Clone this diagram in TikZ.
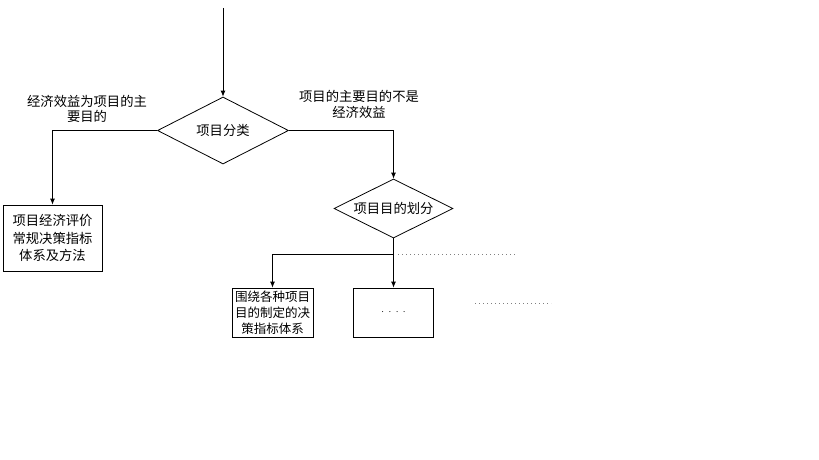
\documentclass[tikz,border=0pt]{standalone}
\usepackage{fontspec}
\setmainfont{Noto Sans CJK SC}
\usetikzlibrary{shapes.geometric,arrows.meta}
\begin{document}
\begin{tikzpicture}[x=1pt,y=-1pt,
  every node/.style={font=\fontsize{13.3}{17.5}\selectfont},
  dia/.style={draw,diamond,aspect=2,inner sep=0pt,line width=0.8pt},
  box/.style={draw,rectangle,inner sep=0pt,line width=0.8pt,align=center},
  lab/.style={align=center,inner sep=0pt,font=\fontsize{13.3}{15.5}\selectfont},
  arr/.style={line width=0.8pt,-{Latex[length=6pt,width=5pt]}},
  ln/.style={line width=0.8pt},
  dots/.style={gray,line width=0.7pt,dash pattern=on 0.7pt off 3.3pt}]
\useasboundingbox (0,0) rectangle (819,460);
\coordinate (top) at (223,8);
\node[dia,minimum width=131,minimum height=67] (d1) at (223,130.5) {项目分类};
\node[box,minimum width=99,minimum height=66] (b1) at (52.5,238) {项目经济评价\\常规决策指标\\体系及方法};
\node[dia,minimum width=119,minimum height=59] (d2) at (393.5,208.5) {项目目的划分};
\node[box,minimum width=81,minimum height=49,font=\fontsize{12.5}{16}\selectfont] (b3) at (272.5,312.5) {围绕各种项目\\目的制定的决\\策指标体系};
\node[box,minimum width=80,minimum height=49] (b4) at (393.5,312.5) {\fontsize{8}{10}\selectfont .\hspace{5pt}.\hspace{5pt}.\hspace{5pt}.};
\node[lab] (l1) at (87,109) {经济效益为项目的主\\要目的};
\node[lab] (l2) at (359,104.5) {项目的主要目的不是\\经济效益};
\coordinate (j) at (393.5,254);
\coordinate (e1a) at (398,254);
\coordinate (e1b) at (515,254);
\coordinate (e2a) at (475,303);
\coordinate (e2b) at (551,303);
\draw[arr] (top) -- (d1.north);
\draw[arr] (d1.west) -| (b1.north);
\draw[arr] (d1.east) -| (d2.north);
\draw[ln] (d2.south) -- (j);
\draw[arr] (j) -| (b3.north);
\draw[arr] (j) -- (b4.north);
\draw[dots] (e1a) -- (e1b);
\draw[dots] (e2a) -- (e2b);
\end{tikzpicture}
\end{document}
